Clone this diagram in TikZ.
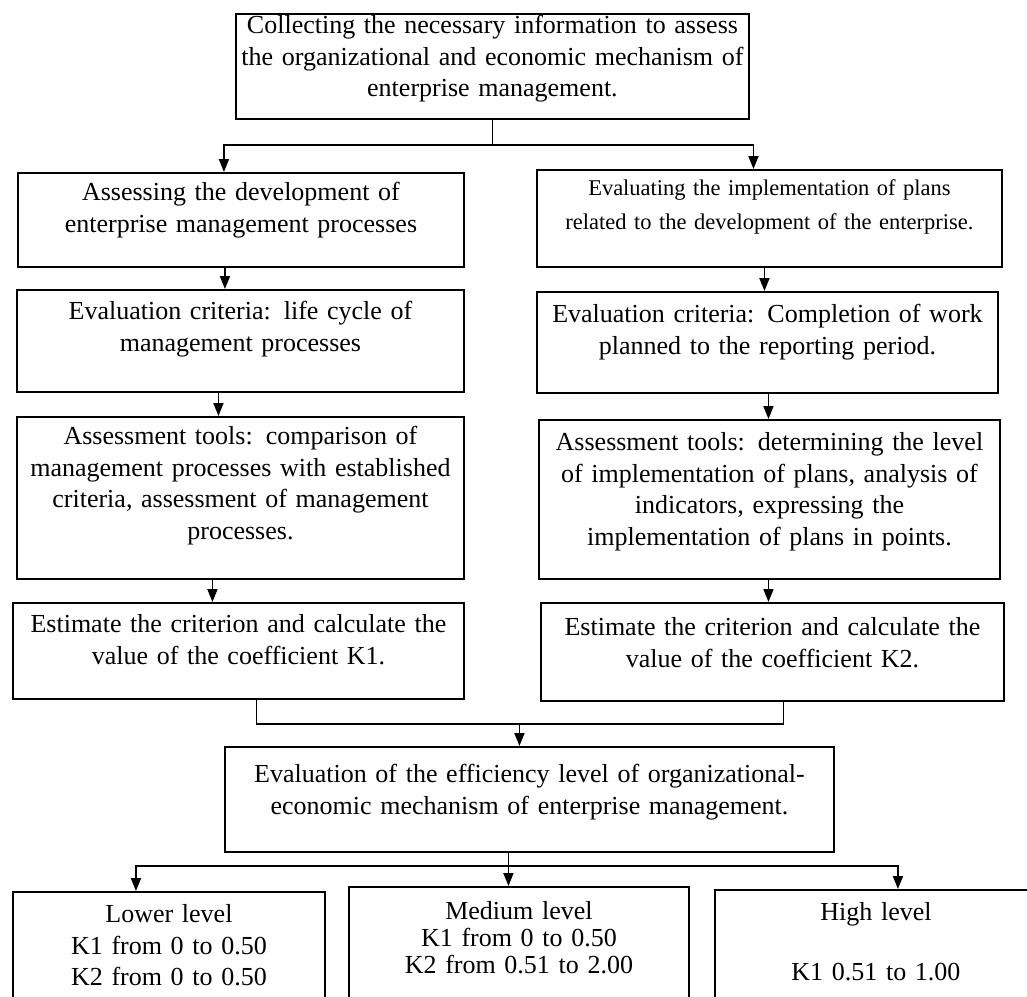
\documentclass[tikz,border=0pt]{standalone}
\usepackage{fontspec}
\setmainfont{Liberation Serif}
\usetikzlibrary{arrows.meta}
\tikzstyle{box} = [draw,line width=1.9pt,rectangle,inner sep=0pt,anchor=north west,align=center,font=\fontsize{26}{31.5}\selectfont]
\tikzstyle{link} = [-,line width=1.8pt]
\tikzstyle{flow} = [link,-{Triangle[length=13pt,width=10pt]}]
\def \gap {25}

\begin{document}
\begin{tikzpicture}[x=1pt,y=-1pt]
  \useasboundingbox (0,0) rectangle (1027,996);
  \clip (0,0) rectangle (1027,996);
  % top
  \node[box,text width=513pt,text height=20pt,text depth=85pt] (info) at (235,13)
    {Collecting the necessary information to assess\\ the organizational and economic mechanism of\\ enterprise management.};
  % left branch
  \node[box,text width=446pt,text height=28pt,text depth=66pt] (l1) at (17,172)
    {Assessing the development of\\ enterprise management processes};
  \node[box,text width=447pt,text height=30pt,text depth=72pt] (l2) at (16,289)
    {Evaluation criteria: life cycle of\\ management processes};
  \node[box,text width=447pt,text height=28pt,text depth=134pt] (l3) at (16,416)
    {Assessment tools: comparison of\\ management processes with established\\ criteria, assessment of management\\ processes.};
  \node[box,text width=451pt,text height=30pt,text depth=66pt] (l4) at (12,602)
    {Estimate the criterion and calculate the\\ value of the coefficient K1.};
  % right branch
  \node[box,text width=465pt,text height=26pt,text depth=71pt,font=\fontsize{22.5}{34}\selectfont] (r1) at (536,169)
    {Evaluating the implementation of plans\\ related to the development of the enterprise.};
  \node[box,text width=461pt,text height=31pt,text depth=70pt] (r2) at (536,291)
    {Evaluation criteria: Completion of work\\ planned to the reporting period.};
  \node[box,text width=461pt,text height=31pt,text depth=128pt] (r3) at (538,419)
    {Assessment tools: determining the level\\ of implementation of plans, analysis of\\ indicators, expressing the\\ implementation of plans in points.};
  \node[box,text width=463pt,text height=33pt,text depth=65pt] (r4) at (540,602)
    {Estimate the criterion and calculate the\\ value of the coefficient K2.};
  % evaluation
  \node[box,text width=609pt,text height=36pt,text depth=69pt] (eval) at (224,746)
    {Evaluation of the efficiency level of organizational-\\ economic mechanism of enterprise management.};
  % levels
  \node[box,text width=312pt,text height=31pt,text depth=88pt] (low) at (12,891)
    {Lower level\\ K1 from 0 to 0.50\\ K2 from 0 to 0.50};
  \node[box,text width=340pt,text height=33pt,text depth=91pt,font=\fontsize{26}{27}\selectfont] (med) at (348,886)
    {Medium level\\ K1 from 0 to 0.50\\ K2 from 0.51 to 2.00};
  \node[box,text width=322pt,text height=31pt,text depth=90pt] (high) at (714,889)
    {High level\\[28.5pt] K1 0.51 to 1.00};

  \draw[link] (info.south) -- ++(0,\gap) coordinate (fk);
  \draw[flow] (fk) -| ([xshift=-17pt]l1.north);
  \draw[flow] (fk) -| ([xshift=-16pt]r1.north);
  \draw[flow] ([xshift=-16pt]l1.south) -- ([xshift=-16pt]l1.south |- l2.north);
  \draw[flow] ([xshift=-22pt]l2.south) -- ([xshift=-22pt]l2.south |- l3.north);
  \draw[flow] ([xshift=-28pt]l3.south) -- ([xshift=-28pt]l3.south |- l4.north);
  \draw[flow] ([xshift=-5pt]r1.south) -- ([xshift=-5pt]r1.south |- r2.north);
  \draw[flow] ([xshift=1pt]r2.south) -- ([xshift=1pt]r2.south |- r3.north);
  \draw[flow] ([xshift=-1pt]r3.south) -- ([xshift=-1pt]r3.south |- r4.north);
  \draw[link] ([xshift=18pt]l4.south) -- ++(0,24) coordinate (mg) -| ([xshift=11pt]r4.south);
  \coordinate (ein) at ([xshift=-10pt]eval.north);
  \draw[flow] (ein |- mg) -- (ein);
  \draw[link] ([xshift=-21pt]eval.south) -- ++(0,13) coordinate (sp);
  \draw[flow] (sp) -| ([xshift=-33pt]low.north);
  \draw[flow] (sp) -- (sp |- med.north);
  \draw[flow] (sp) -| ([xshift=22pt]high.north);
\end{tikzpicture}
\end{document}
